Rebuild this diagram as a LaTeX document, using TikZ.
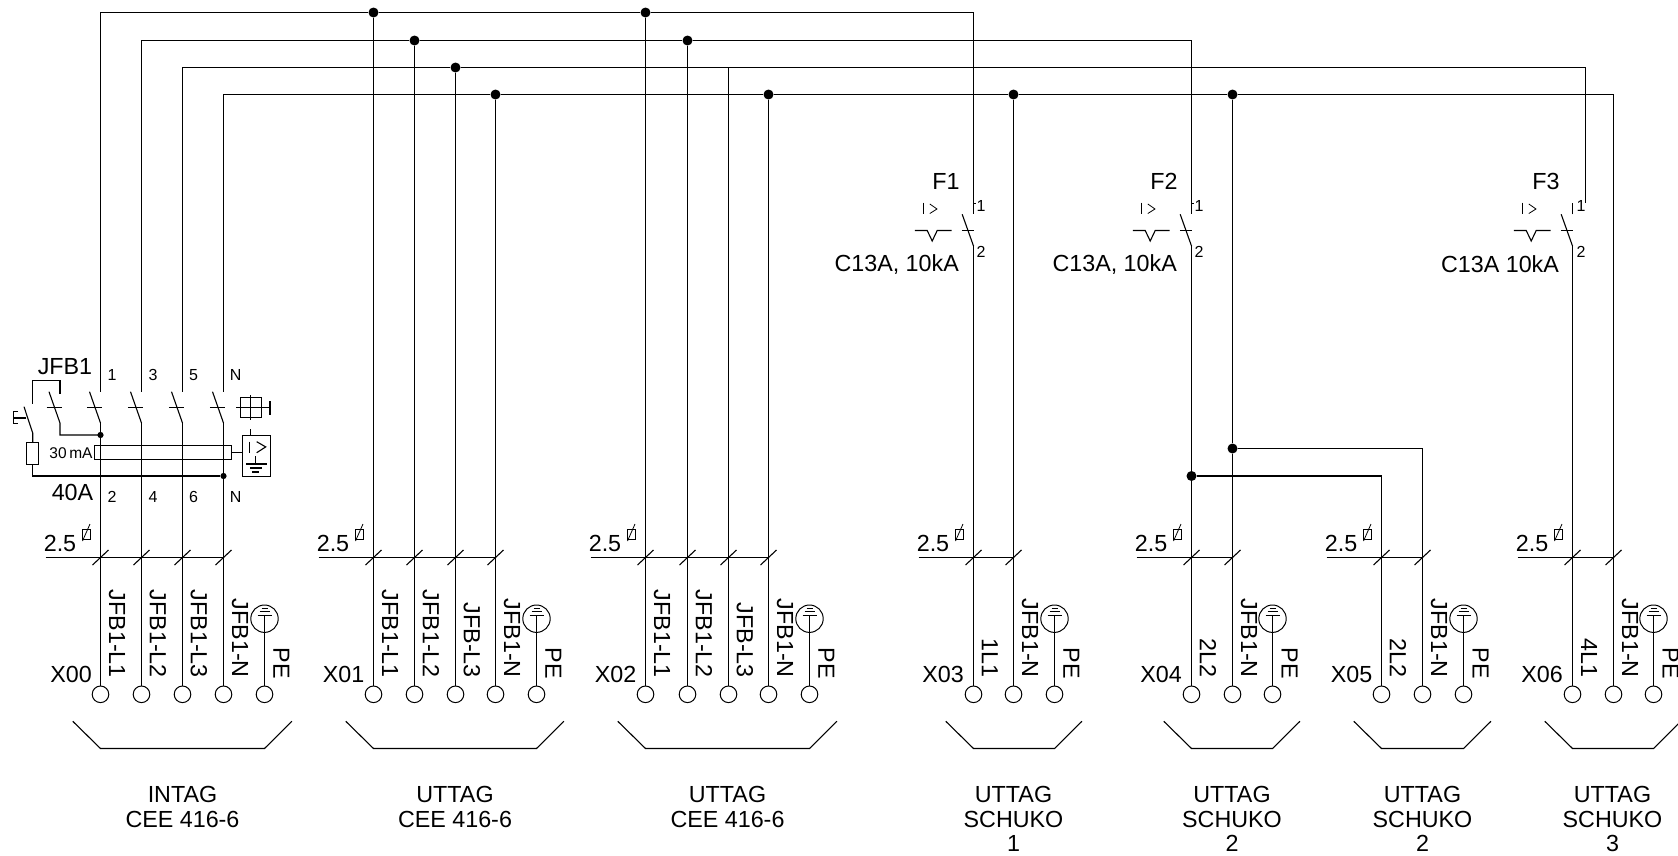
\documentclass[tikz,border=0pt]{standalone}
\usepackage{fontspec}
\setmainfont{Liberation Sans}
\tikzset{
  wire/.style={line width=1.3pt,black,line cap=butt,line join=miter},
  sym/.style={line width=1.1pt,black,line join=miter},
  junction/.style={circle,fill=black,draw=none,inner sep=0pt,minimum size=10pt},
  smalljunction/.style={circle,fill=black,draw=none,inner sep=0pt,minimum size=6.2pt},
  terminalnode/.style={circle,draw=black,line width=1pt,fill=white,inner sep=0pt,minimum size=16.6pt},
  big/.style={font=\fontsize{23.3}{24.5}\selectfont,inner sep=0pt,text=black},
  small/.style={font=\fontsize{16}{18}\selectfont,inner sep=0pt,text=black},
  vert/.style={big,rotate=-90,anchor=east},
  title/.style={big,align=center,anchor=north}
}
\newcommand{\terminalat}[3]{% name, x, text
  \node[terminalnode] (#1) at (#2,694.3) {};
  \node[vert] (#1lab) at ({#2+16.5},678) {#3};
  \draw[sym] ({#2-8},565) -- ({#2+8},550);
}
\newcommand{\peat}[2]{% name, x
  \node[terminalnode] (#1) at (#2,694.3) {};
  \node[circle,draw=black,line width=1pt,inner sep=0pt,minimum size=27.4pt] (#1e) at (#2,618.7) {};
  \coordinate (#1c) at (#2,615.7);
  \draw[wire] (#1) -- (#1c);
  \draw[sym] ({#2-7},615.7) -- ({#2+7},615.7);
  \draw[sym] ({#2-5},611.7) -- ({#2+5},611.7);
  \draw[sym] ({#2-3},608.7) -- ({#2+3},608.7);
  \node[vert] (#1lab) at ({#2+17},679) {PE};
}
\newcommand{\sizebar}[3]{% name, x0, xlast
  \coordinate (#1s) at ({#2-55},557.5);
  \coordinate (#1e) at (#3,557.5);
  \draw[wire] (#1s) -- (#1e);
  \node[big] (#1n) at ({#2-40.5},543) {2.5};
  \draw[sym,line width=.8pt] ({#2-18.5},529) rectangle ({#2-10.5},539);
  \draw[sym,line width=.8pt] ({#2-18},541) -- ({#2-10.5},524);
}
\newcommand{\tray}[3]{% name, x0, xlast
  \coordinate (#1a) at ({#2-27.7},721.3);
  \coordinate (#1b) at (#2,748.5);
  \coordinate (#1c) at (#3,748.5);
  \coordinate (#1d) at ({#3+27.4},721.3);
  \draw[sym] (#1a) -- (#1b) -- (#1c) -- (#1d);
}
\newcommand{\breaker}[1]{% x
  \draw[sym] ({#1-11.3},214.3) -- (#1,246);
  \draw[sym] ({#1-11.7},230.5) -- ({#1+0.3},230.5);
  \draw[sym] ({#1-58.7},230.5) -- ({#1-46.3},230.5) -- ({#1-41.3},241) -- ({#1-36.3},230.5) -- ({#1-22},230.5);
  \draw[sym] ({#1-49.7},202.7) -- ({#1-49.7},214.3);
  \draw[sym,line width=.8pt] ({#1-43.7},204) -- ({#1-36.5},209) -- ({#1-43.7},213.5);
}
\begin{document}
\begin{tikzpicture}[x=1pt,y=-1pt]
\useasboundingbox (0,0) rectangle (1678,855);

% ---- bus junctions
\node[junction] (a1) at (373.5,12.5) {};
\node[junction] (a2) at (645.5,12.5) {};
\node[junction] (b1) at (414.5,40.5) {};
\node[junction] (b2) at (687.5,40.5) {};
\node[junction] (c1) at (455.5,67.5) {};
\coordinate (c2) at (728.5,67.5);
\node[junction] (n1) at (495.5,94.5) {};
\node[junction] (n2) at (768.5,94.5) {};
\node[junction] (n3) at (1013.5,94.5) {};
\node[junction] (n4) at (1232.5,94.5) {};
\node[junction] (j1) at (1191.5,476) {};
\node[junction] (j2) at (1232.5,448.5) {};

% ---- terminals
\terminalat{t00a}{100.5}{JFB1-L1}
\terminalat{t00b}{141.5}{JFB1-L2}
\terminalat{t00c}{182.5}{JFB1-L3}
\terminalat{t00d}{223.5}{JFB1-N}
\peat{t00e}{264.5}
\terminalat{t01a}{373.5}{JFB1-L1}
\terminalat{t01b}{414.5}{JFB1-L2}
\terminalat{t01c}{455.5}{JFB-L3}
\terminalat{t01d}{495.5}{JFB1-N}
\peat{t01e}{536.5}
\terminalat{t02a}{645.5}{JFB1-L1}
\terminalat{t02b}{687.5}{JFB1-L2}
\terminalat{t02c}{728.5}{JFB-L3}
\terminalat{t02d}{768.5}{JFB1-N}
\peat{t02e}{809.5}
\terminalat{t03a}{973.5}{1L1}
\terminalat{t03b}{1013.5}{JFB1-N}
\peat{t03e}{1054.5}
\terminalat{t04a}{1191.5}{2L2}
\terminalat{t04b}{1232.5}{JFB1-N}
\peat{t04e}{1272.5}
\terminalat{t05a}{1381.5}{2L2}
\terminalat{t05b}{1422.5}{JFB1-N}
\peat{t05e}{1463.5}
\terminalat{t06a}{1572.5}{4L1}
\terminalat{t06b}{1613.5}{JFB1-N}
\peat{t06e}{1653.5}

% ---- terminal block names
\node[big,anchor=east] (x0) at (92,674) {X00};
\node[big,anchor=east] (x1) at (364.5,674) {X01};
\node[big,anchor=east] (x2) at (636.5,674) {X02};
\node[big,anchor=east] (x3) at (964,674) {X03};
\node[big,anchor=east] (x4) at (1182,674) {X04};
\node[big,anchor=east] (x5) at (1372.5,674) {X05};
\node[big,anchor=east] (x6) at (1563,674) {X06};

% ---- cable size bars
\sizebar{s0}{100.5}{223.5}
\sizebar{s1}{373.5}{495.5}
\sizebar{s2}{645.5}{768.5}
\sizebar{s3}{973.5}{1013.5}
\sizebar{s4}{1191.5}{1232.5}
\sizebar{s5}{1381.5}{1422.5}
\sizebar{s6}{1572.5}{1613.5}

% ---- trays
\tray{r0}{100.5}{264.5}
\tray{r1}{373.5}{536.5}
\tray{r2}{645.5}{809.5}
\tray{r3}{973.5}{1054.5}
\tray{r4}{1191.5}{1272.5}
\tray{r5}{1381.5}{1463.5}
\tray{r6}{1572.5}{1653.5}

% ---- titles
\node[title] (g0) at (182.5,786.5) {INTAG\\CEE 416-6};
\node[title] (g1) at (455,786.5) {UTTAG\\CEE 416-6};
\node[title] (g2) at (727.5,786.5) {UTTAG\\CEE 416-6};
\node[title] (g3) at (1013.5,786.5) {UTTAG\\SCHUKO\\1};
\node[title] (g4) at (1232,786.5) {UTTAG\\SCHUKO\\2};
\node[title] (g5) at (1422.5,786.5) {UTTAG\\SCHUKO\\2};
\node[title] (g6) at (1612.5,786.5) {UTTAG\\SCHUKO\\3};

% ---- bus corners and contact ends
\coordinate (l1top) at (100.5,12.5);
\coordinate (l2top) at (141.5,40.5);
\coordinate (l3top) at (182.5,67.5);
\coordinate (nttop) at (223.5,94.5);
\coordinate (l1in) at (100.5,391.7);
\coordinate (l2in) at (141.5,391.7);
\coordinate (l3in) at (182.5,391.7);
\coordinate (ntin) at (223.5,391.7);
\coordinate (l1out) at (100.5,423);
\coordinate (l2out) at (141.5,423);
\coordinate (l3out) at (182.5,423);
\coordinate (ntout) at (223.5,423);
\coordinate (f1top) at (973.5,12.5);
\coordinate (f1in) at (973.5,214.3);
\coordinate (f1out) at (973.5,246);
\coordinate (f2top) at (1191.5,40.5);
\coordinate (f2in) at (1191.5,214.3);
\coordinate (f2out) at (1191.5,246);
\coordinate (f3top) at (1585.5,67.5);
\coordinate (f3in) at (1585.5,203);
\coordinate (f3stub) at (1572.5,203);
\coordinate (f3stubb) at (1572.5,214.3);
\coordinate (f3out) at (1572.5,246);
\coordinate (n6top) at (1613.5,94.5);
\coordinate (j1c) at (1381.5,476);
\coordinate (j2c) at (1422.5,448.5);

% ---- buses
\draw[wire] (l1in) -- (l1top) -- (a1) -- (a2) -- (f1top) -- (f1in);
\draw[wire] (l2in) -- (l2top) -- (b1) -- (b2) -- (f2top) -- (f2in);
\draw[wire] (l3in) -- (l3top) -- (c1) -- (c2) -- (f3top) -- (f3in);
\draw[wire] (ntin) -- (nttop) -- (n1) -- (n2) -- (n3) -- (n4) -- (n6top) -- (t06b);
\draw[wire] (f3stubb) -- (f3stub);

% ---- drops
\draw[wire] (a1) -- (t01a);
\draw[wire] (b1) -- (t01b);
\draw[wire] (c1) -- (t01c);
\draw[wire] (n1) -- (t01d);
\draw[wire] (a2) -- (t02a);
\draw[wire] (b2) -- (t02b);
\draw[wire] (c2) -- (t02c);
\draw[wire] (n2) -- (t02d);
\draw[wire] (n3) -- (t03b);
\draw[wire] (n4) -- (j2) -- (t04b);
\draw[wire] (f1out) -- (t03a);
\draw[wire] (f2out) -- (j1) -- (t04a);
\draw[wire] (f3out) -- (t06a);
\draw[wire] (j1) -- (j1c) -- (t05a);
\draw[wire] (j2) -- (j2c) -- (t05b);
\draw[wire] (l1out) -- (t00a);
\draw[wire] (l2out) -- (t00b);
\draw[wire] (l3out) -- (t00c);
\draw[wire] (ntout) -- (t00d);

% ---- breakers
\breaker{973.5}
\breaker{1191.5}
\breaker{1572.5}
\draw[sym,line width=.8pt] (973.5,203) -- (976,203);
\draw[sym,line width=.8pt] (1191.5,203) -- (1194,203);
\node[big] (f1) at (946,181) {F1};
\node[big] (f2) at (1164,181) {F2};
\node[big] (f3) at (1546,181) {F3};
\node[big] (f1c) at (896.7,264.3) {C13A, 10kA};
\node[big] (f2c) at (1114.7,264.3) {C13A, 10kA};
\node[big] (f3c) at (1500,264.3) {C13A 10kA};
\node[small] (f1a) at (981,205.5) {1};
\node[small] (f1b) at (981,252) {2};
\node[small] (f2a) at (1199,205.5) {1};
\node[small] (f2b) at (1199,252) {2};
\node[small] (f3a) at (1581,205.5) {1};
\node[small] (f3b) at (1581,252) {2};

% ---- JFB1 residual current device
\foreach \x in {100.5,141.5,182.5,223.5}{
  \draw[sym] ({\x-11},391.7) -- (\x,423);
  \draw[sym] ({\x-13.7},407.5) -- ({\x+1.7},407.5);
}
\draw[sym] (49,391.7) -- (60,423) -- (60,435) -- (100.5,435);
\draw[sym] (46.7,407.5) -- (62,407.5);
\draw[sym] (60,394) -- (60,380.7) -- (32.7,380.7) -- (32.7,404);
\draw[sym] (24,406.7) -- (32.7,433) -- (32.7,442);
\draw[sym] (26,418) -- (13.3,418);
\draw[sym] (18,411.7) -- (13.3,411.7) -- (13.3,423.3) -- (18,423.3);
\node[draw=black,line width=1pt,inner sep=0pt,minimum width=11.6pt,minimum height=22pt] (res) at (32.5,453) {};
\node[smalljunction] (rd1) at (100.5,435) {};
\node[smalljunction] (rd2) at (223.5,476) {};
\coordinate (rc) at (32.5,476);
\draw[sym] (res) -- (rc) -- (rd2);
\node[draw=black,line width=1pt,fill=none,inner sep=0pt,minimum width=136.6pt,minimum height=13.6pt] (core) at (163,452.5) {};
\node[draw=black,line width=1pt,inner sep=0pt,minimum width=28pt,minimum height=41pt] (rcd) at (256,455.5) {};
\draw[sym] (core.east) -- (rcd.west |- core.east);
\draw[sym] (249.3,441.7) -- (249.3,452.7);
\draw[sym] (256.7,441.7) -- (265.7,446.9) -- (256.7,452.7);
\draw[sym] (255.7,456) -- (255.7,464);
\draw[sym] (246,464) -- (266.7,464);
\draw[sym] (250,468) -- (261.7,468);
\draw[sym] (252,472) -- (259,472);
\node[draw=black,line width=1pt,inner sep=0pt,minimum width=21pt,minimum height=20.4pt] (test) at (250.5,407.5) {};
\draw[sym] (250.7,395) -- (250.7,420);
\draw[sym] (236,407.5) -- (270,407.5);
\draw[sym] (270,401) -- (270,415);
\draw[sym] (250.7,429) -- (250.7,435);
\node[big] (jfb) at (65,366.5) {JFB1};
\node[big] (fa) at (72.5,492) {40A};
\node[small,font=\fontsize{15.5}{18}\selectfont] (ma) at (71,453) {30\,mA};
\foreach \n/\x/\t in {p1/112/1,p3/153/3,p5/193.5/5,pn/235.7/N}{
  \node[small] (\n) at (\x,375) {\t};
}
\foreach \n/\x/\t in {q2/112/2,q4/153/4,q6/193.5/6,qn/235.7/N}{
  \node[small] (\n) at (\x,497) {\t};
}
\end{tikzpicture}
\end{document}
